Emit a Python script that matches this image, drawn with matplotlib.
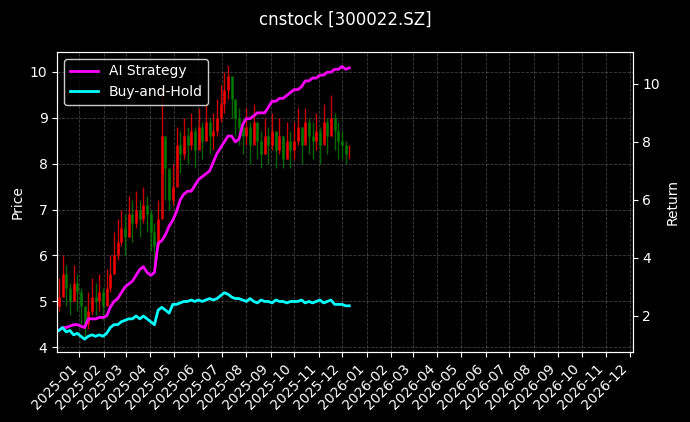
import matplotlib
matplotlib.use("Agg")
import matplotlib.pyplot as plt
import matplotlib.dates as mdates
import pandas as pd
import numpy as np

close = [5.1,5.6,5.3,5.0,5.4,5.2,4.9,
         4.5,4.8,5.1,5.0,5.2,4.9,5.3,
         5.6,6.0,6.3,6.6,6.4,6.9,6.7,
         7.0,6.8,7.1,6.9,6.5,6.2,6.8,
         8.6,7.9,7.2,7.5,8.4,8.2,8.6,
         8.4,8.7,8.3,8.8,8.5,8.9,8.6,
         8.7,9.0,9.3,9.6,9.9,9.4,9.0,8.8,
         8.6,8.8,8.4,8.9,8.5,8.2,8.6,
         8.4,8.7,8.3,8.6,8.1,8.5,8.3,
         8.5,8.8,8.4,8.9,8.6,8.5,
         8.7,8.4,8.9,8.6,9.0,8.7,8.5,
         8.4,8.2,8.2]
high = [5.5,6.0,5.8,5.4,5.8,5.6,5.3,
        4.9,5.2,5.5,5.4,5.6,5.3,5.7,
        6.0,6.5,6.8,7.0,6.9,7.3,7.2,
        7.4,7.2,7.5,7.3,7.0,6.7,7.2,
        9.6,8.6,7.8,8.0,8.8,8.7,9.0,
        8.8,9.1,8.8,9.2,8.9,9.3,9.0,
        9.1,9.4,9.7,10.0,10.15,9.9,9.4,9.2,
        9.0,9.2,8.9,9.3,8.9,8.7,9.0,
        8.8,9.1,8.7,9.0,8.6,8.9,8.7,
        8.9,9.2,8.8,9.2,9.0,8.9,
        9.1,8.8,9.3,9.0,9.5,9.1,8.9,
        8.7,8.5,8.4]
low = [4.8,5.1,4.9,4.7,5.0,4.8,4.5,
       4.2,4.4,4.7,4.7,4.8,4.6,4.9,
       5.2,5.6,5.9,6.2,6.0,6.4,6.3,
       6.6,6.4,6.7,6.5,6.1,5.8,6.3,
       7.8,7.2,7.0,7.1,7.9,7.8,8.1,
       8.0,8.3,7.9,8.4,8.1,8.5,8.2,
       8.3,8.6,8.9,9.1,9.4,9.0,8.6,8.4,
       8.2,8.4,8.0,8.5,8.1,7.9,8.2,
       8.0,8.3,7.9,8.2,7.9,8.1,7.9,
       8.1,8.4,8.0,8.5,8.2,8.1,
       8.3,8.0,8.5,8.2,8.6,8.3,8.1,
       8.1,8.0,8.1]
ai_ret = [1.5,1.6,1.6,1.65,1.7,1.7,1.65,
          1.6,1.9,1.9,1.9,1.95,1.95,2.0,
          2.3,2.5,2.6,2.8,3.0,3.1,3.2,
          3.4,3.6,3.7,3.5,3.4,3.5,4.5,
          4.6,4.8,5.1,5.3,5.6,6.0,6.2,
          6.3,6.3,6.5,6.7,6.8,6.9,7.0,
          7.3,7.6,7.8,8.0,8.2,8.2,8.0,8.1,
          8.6,8.8,8.8,8.9,9.0,9.0,9.0,
          9.2,9.4,9.4,9.5,9.5,9.6,9.7,
          9.8,9.8,9.9,10.1,10.1,10.2,
          10.2,10.3,10.3,10.4,10.4,10.5,10.5,
          10.6,10.5,10.55]
bh_ret = [1.5,1.6,1.45,1.5,1.35,1.4,1.3,
          1.2,1.3,1.35,1.3,1.35,1.3,1.4,
          1.6,1.7,1.7,1.8,1.85,1.9,1.9,
          2.0,1.9,2.0,1.9,1.8,1.7,2.2,
          2.3,2.2,2.1,2.4,2.4,2.45,2.5,
          2.5,2.55,2.5,2.55,2.5,2.55,2.6,
          2.55,2.6,2.7,2.8,2.75,2.65,2.6,2.6,
          2.55,2.5,2.6,2.5,2.45,2.55,2.5,
          2.5,2.45,2.55,2.5,2.5,2.45,2.5,
          2.5,2.5,2.55,2.45,2.5,2.45,
          2.5,2.55,2.45,2.5,2.55,2.4,2.4,
          2.4,2.35,2.35]
open_ = [4.9] + close[:-1]
dates = pd.date_range("2024-12-06", "2025-12-10", periods=len(close))

plt.style.use("dark_background")
fig, ax = plt.subplots(figsize=(6.9, 4.22), dpi=100)
fig.subplots_adjust(left=0.083, right=0.917, top=0.877, bottom=0.166)
colors = ["red" if c >= o else "green" for o, c in zip(open_, close)]
ax.vlines(dates, low, high, colors=colors, linewidth=1.0, alpha=0.8)
ax.vlines(dates, np.minimum(open_, close), np.maximum(open_, close), colors=colors, linewidth=2.0, alpha=0.8)
ax.set_ylim(3.9, 10.43)
ax.set_ylabel("Price")
ax.grid(True, linestyle="--", color="gray", alpha=0.5, linewidth=0.6)
ax2 = ax.twinx()
ax2.plot(dates, ai_ret, color="magenta", linewidth=2, label="AI Strategy")
ax2.plot(dates, bh_ret, color="cyan", linewidth=2, label="Buy-and-Hold")
ax2.set_ylim(0.76, 11.1)
ax2.set_ylabel("Return")
ax.set_xlim(pd.Timestamp("2024-12-04"), pd.Timestamp("2026-12-05"))
ax.xaxis.set_major_locator(mdates.MonthLocator())
ax.xaxis.set_major_formatter(mdates.DateFormatter("%Y-%m"))
plt.setp(ax.get_xticklabels(), rotation=45, ha="right")
ax2.legend(loc="upper left", edgecolor="white")
fig.suptitle("cnstock [300022.SZ]", fontsize=12, y=0.975)
fig.savefig("out.png", dpi=100)
